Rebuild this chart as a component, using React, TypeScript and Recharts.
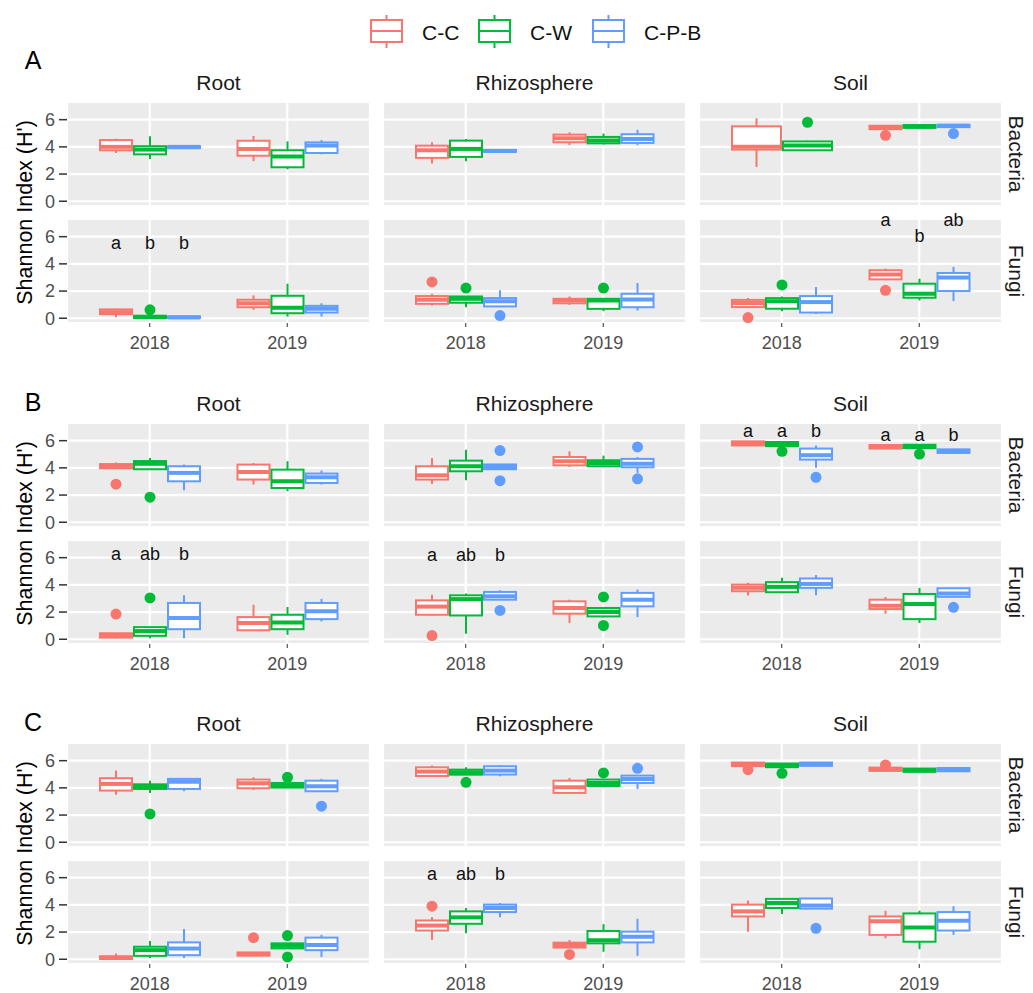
import React from 'react'
import { ComposedChart, Bar, XAxis, YAxis, CartesianGrid } from 'recharts'

const treatments = ['C-C', 'C-W', 'C-P-B']
const colors = ['#F8766D', '#00BA38', '#619CFF']
const years = ['2018', '2019']
const compartments = ['Root', 'Rhizosphere', 'Soil']
const kingdoms = ['Bacteria', 'Fungi']
const sectionLabels = ['A', 'B', 'C']
const majorTicks = [0, 2, 4, 6]
const minorTicks = [1, 3, 5, 7]

// one box = [min, q1, median, q3, max, ...outliers]
// order: 2018 C-C, C-W, C-P-B, then 2019 C-C, C-W, C-P-B
const A_root_bact = [
  [3.55, 3.75, 4.0, 4.5, 4.6],
  [3.1, 3.45, 3.8, 4.05, 4.78],
  [3.88, 3.9, 4.0, 4.05, 4.08],
  [2.95, 3.35, 3.85, 4.45, 4.8],
  [2.35, 2.5, 3.3, 3.75, 4.4],
  [3.45, 3.55, 4.1, 4.33, 4.5],
]
const A_root_fungi = [
  [0.08, 0.3, 0.45, 0.65, 0.7],
  [0, 0.02, 0.1, 0.18, 0.22, 0.62],
  [0, 0.02, 0.06, 0.14, 0.18],
  [0.62, 0.81, 1.1, 1.36, 1.68],
  [0.12, 0.37, 0.77, 1.65, 2.54],
  [0.12, 0.42, 0.69, 0.91, 1.1],
]
const A_rhizo_bact = [
  [2.77, 3.19, 3.75, 4.09, 4.34],
  [2.94, 3.26, 3.85, 4.46, 4.58],
  [3.6, 3.63, 3.7, 3.77, 3.8],
  [4.14, 4.34, 4.63, 4.9, 5.07],
  [4.17, 4.26, 4.46, 4.73, 4.98],
  [4.12, 4.29, 4.58, 4.93, 5.25],
]
const A_rhizo_fungi = [
  [0.94, 1.06, 1.36, 1.63, 1.8, 2.67],
  [0.81, 1.14, 1.43, 1.6, 1.62, 2.22],
  [0.86, 0.87, 1.25, 1.48, 2.05, 0.2],
  [0.99, 1.1, 1.3, 1.43, 1.6],
  [0.52, 0.69, 1.3, 1.43, 1.45, 2.22],
  [0.57, 0.81, 1.38, 1.8, 2.59],
]
const A_soil_bact = [
  [2.52, 3.8, 4.0, 5.51, 6.1],
  [3.72, 3.75, 4.1, 4.4, 4.45, 5.81],
  null,
  [5.25, 5.3, 5.45, 5.55, 5.6, 4.85],
  [5.35, 5.4, 5.5, 5.6, 5.65],
  [5.4, 5.45, 5.55, 5.62, 5.68, 4.98],
]
const A_soil_fungi = [
  [0.8, 0.82, 1.12, 1.35, 1.48, 0.05],
  [0.52, 0.7, 1.25, 1.48, 1.6, 2.45],
  [0.32, 0.42, 1.19, 1.63, 2.3],
  [2.8, 2.86, 3.21, 3.53, 3.65, 2.05],
  [1.31, 1.51, 1.8, 2.54, 2.91],
  [1.26, 2.0, 3.0, 3.33, 3.78],
]
const B_root_bact = [
  [3.95, 3.97, 4.12, 4.28, 4.4, 2.8],
  [3.87, 3.9, 4.3, 4.5, 4.73, 1.84],
  [2.35, 3.01, 3.63, 4.12, 4.24],
  [2.77, 3.14, 3.7, 4.24, 4.36],
  [2.28, 2.52, 3.01, 3.87, 4.49],
  [2.77, 2.89, 3.31, 3.58, 3.8],
]
const B_root_fungi = [
  [0.07, 0.12, 0.27, 0.44, 0.45, 1.85],
  [0.07, 0.25, 0.6, 0.89, 0.9, 3.04],
  [0.07, 0.74, 1.56, 2.67, 3.23],
  [0.64, 0.66, 1.19, 1.63, 2.54],
  [0.32, 0.74, 1.23, 1.8, 2.37],
  [1.31, 1.48, 2.05, 2.67, 2.96],
]
const B_rhizo_bact = [
  [2.82, 3.14, 3.45, 4.12, 4.73],
  [3.09, 3.75, 4.12, 4.53, 5.34],
  [3.87, 3.9, 4.07, 4.25, 4.29, 5.27, 3.06],
  [4.07, 4.19, 4.49, 4.8, 5.22],
  [4.07, 4.12, 4.36, 4.56, 4.9],
  [3.63, 4.04, 4.31, 4.66, 4.8, 5.54, 3.19],
]
const B_rhizo_fungi = [
  [1.73, 1.8, 2.4, 2.86, 3.28, 0.27],
  [0.4, 1.75, 2.95, 3.23, 3.36],
  [2.9, 2.91, 3.16, 3.48, 3.6, 2.12],
  [1.19, 1.88, 2.3, 2.79, 2.91],
  [1.6, 1.68, 2.0, 2.3, 2.37, 3.11, 1.01],
  [1.63, 2.42, 2.91, 3.41, 3.65],
]
const B_soil_bact = [
  [5.6, 5.65, 5.81, 5.95, 5.98],
  [5.58, 5.6, 5.78, 5.9, 5.92, 5.22],
  [4.0, 4.61, 4.93, 5.42, 5.64, 3.31],
  [5.39, 5.42, 5.54, 5.68, 5.7],
  [5.44, 5.46, 5.59, 5.7, 5.72, 5.02],
  [5.05, 5.1, 5.22, 5.36, 5.4],
]
const B_soil_fungi = [
  [3.21, 3.53, 3.78, 4.02, 4.15],
  [3.4, 3.46, 3.85, 4.2, 4.52],
  [3.23, 3.78, 4.07, 4.47, 4.72],
  [1.88, 2.22, 2.47, 2.91, 3.11],
  [1.19, 1.48, 2.59, 3.33, 3.78],
  [3.11, 3.12, 3.36, 3.75, 3.78, 2.35],
]
const C_root_bact = [
  [3.5, 3.8, 4.29, 4.71, 5.27],
  [3.63, 3.92, 4.12, 4.26, 4.53, 2.08],
  [3.75, 3.92, 4.45, 4.66, 4.7],
  [3.85, 3.97, 4.34, 4.61, 4.78],
  [4.0, 4.02, 4.17, 4.36, 4.4, 4.78],
  [3.73, 3.75, 4.12, 4.53, 4.66, 2.65],
]
const C_root_fungi = [
  [0, 0.02, 0.1, 0.22, 0.42],
  [0.1, 0.25, 0.67, 0.92, 1.34],
  [0.1, 0.3, 0.79, 1.24, 2.23],
  [0.25, 0.27, 0.37, 0.5, 0.52, 1.59],
  [0.79, 0.8, 0.99, 1.17, 1.18, 1.74, 0.17],
  [0.17, 0.67, 1.04, 1.59, 1.79],
]
const C_rhizo_bact = [
  [4.85, 4.87, 5.2, 5.51, 5.64],
  [4.95, 4.97, 5.15, 5.34, 5.51, 4.41],
  [4.85, 4.98, 5.27, 5.59, 5.69],
  [3.55, 3.63, 4.04, 4.53, 4.73],
  [4.12, 4.14, 4.36, 4.61, 4.65, 5.1],
  [3.92, 4.36, 4.66, 4.9, 4.92, 5.44],
]
const C_rhizo_fungi = [
  [1.41, 2.11, 2.48, 2.85, 3.08, 3.9],
  [1.91, 2.61, 3.08, 3.52, 3.77],
  [3.08, 3.47, 3.77, 4.02, 4.14],
  [0.84, 0.86, 1.04, 1.22, 1.41, 0.35],
  [0.55, 1.17, 1.4, 2.08, 2.58],
  [0.25, 1.24, 1.66, 2.03, 2.98],
]
const C_soil_bact = [
  [5.59, 5.6, 5.74, 5.86, 5.88, 5.34],
  [5.49, 5.52, 5.66, 5.79, 5.81, 5.07],
  [5.59, 5.62, 5.74, 5.86, 5.88],
  [5.22, 5.25, 5.37, 5.49, 5.51, 5.69],
  [5.15, 5.18, 5.3, 5.42, 5.44],
  [5.2, 5.22, 5.34, 5.46, 5.49],
]
const C_soil_fungi = [
  [2.03, 3.15, 3.52, 4.02, 4.32],
  [3.32, 3.77, 4.14, 4.44, 4.5],
  [3.7, 3.72, 3.95, 4.47, 4.52, 2.28],
  [1.54, 1.79, 2.8, 3.15, 3.57],
  [0.74, 1.29, 2.33, 3.37, 3.57],
  [1.79, 2.11, 2.83, 3.47, 3.9],
]

// significance letters [letter, y], same order as the boxes
const A_root_fungi_sig = [['a', 5.5], ['b', 5.5], ['b', 5.5], null, null, null]
const A_soil_fungi_sig = [null, null, null, ['a', 7.2], ['b', 6.05], ['ab', 7.2]]
const B_root_fungi_sig = [['a', 6.3], ['ab', 6.3], ['b', 6.3], null, null, null]
const B_rhizo_fungi_sig = [['a', 6.2], ['ab', 6.2], ['b', 6.2], null, null, null]
const B_soil_bact_sig = [['a', 6.7], ['a', 6.7], ['b', 6.7], ['a', 6.45], ['a', 6.45], ['b', 6.45]]
const C_rhizo_fungi_sig = [['a', 6.25], ['ab', 6.25], ['b', 6.25], null, null, null]

const grid = [
  [[A_root_bact, A_rhizo_bact, A_soil_bact], [A_root_fungi, A_rhizo_fungi, A_soil_fungi]],
  [[B_root_bact, B_rhizo_bact, B_soil_bact], [B_root_fungi, B_rhizo_fungi, B_soil_fungi]],
  [[C_root_bact, C_rhizo_bact, C_soil_bact], [C_root_fungi, C_rhizo_fungi, C_soil_fungi]],
]
const sigGrid: any = {
  '0-1-0': A_root_fungi_sig,
  '0-1-2': A_soil_fungi_sig,
  '1-1-0': B_root_fungi_sig,
  '1-1-1': B_rhizo_fungi_sig,
  '1-0-2': B_soil_bact_sig,
  '2-1-1': C_rhizo_fungi_sig,
}

const FONT = '"Liberation Sans", Arial, sans-serif'
const PANEL_W = 303
const PANEL_H = 104
const AXIS_W = 40
const XAXIS_H = 36
const X_PAD = 14
const BOX_W = Math.round(((PANEL_W - 2 * X_PAD) / 2) * 0.25)
const colLeft = [67, 383, 699]
const sectionTop = [102, 423, 743]
const FUNGI_OFFSET = 117
const Y_DOMAIN = [-0.35, 7.3]

function BoxShape(props: any) {
  const { x, y, width, height, payload, ti } = props
  const b = payload['b' + ti]
  if (!b || !isFinite(height) || height <= 0) return <g />
  const [mn, q1, md, q3, mx, ...outs] = b
  const [lo, hi] = payload['r' + ti]
  const py = (v: number) => y + (height * (hi - v)) / (hi - lo)
  // dodge among the groups that are present in this year
  const present: number[] = payload.present
  const k = present.length
  const j = present.indexOf(ti)
  const groupLeft = x - ti * width
  const w = (3 * width) / k
  const left = groupLeft + j * w
  const cx = left + w / 2
  const color = colors[ti]
  const sig = payload['s' + ti]
  return (
    <g>
      <line x1={cx} x2={cx} y1={py(q3)} y2={py(mx)} stroke={color} strokeWidth={2} />
      <line x1={cx} x2={cx} y1={py(q1)} y2={py(mn)} stroke={color} strokeWidth={2} />
      <rect x={left + 1} y={py(q3)} width={w - 2} height={py(q1) - py(q3)} fill="#FFFFFF" stroke={color} strokeWidth={2} />
      <line x1={left + 1} x2={left + w - 1} y1={py(md)} y2={py(md)} stroke={color} strokeWidth={4} />
      {outs.map((o: number, i: number) => (
        <circle key={i} cx={cx} cy={py(o)} r={5.5} fill={color} />
      ))}
      {sig && (
        <text x={cx} y={py(sig[1])} textAnchor="middle" dominantBaseline="central" fontSize={18} fill="#111111" fontFamily={FONT}>
          {sig[0]}
        </text>
      )}
    </g>
  )
}

function Panel({ boxes, sig, showY, showX }: any) {
  const rows = years.map((year, yi) => {
    const row: any = { year, present: [] }
    treatments.forEach((_, ti) => {
      const b = boxes[yi * 3 + ti]
      row['b' + ti] = b
      row['r' + ti] = b ? [Math.min(...b), Math.max(...b)] : null
      row['s' + ti] = sig ? sig[yi * 3 + ti] : null
      if (b) row.present.push(ti)
    })
    return row
  })
  const width = PANEL_W + (showY ? AXIS_W : 0)
  const height = PANEL_H + (showX ? XAXIS_H : 0)
  return (
    <ComposedChart width={width} height={height} data={rows} margin={{ top: 0, right: 0, bottom: 0, left: 0 }} barGap={0}>
      <CartesianGrid yAxisId="minor" fill="#EBEBEB" stroke="#FFFFFF" strokeWidth={1.2} vertical={false} />
      <CartesianGrid yAxisId="major" stroke="#FFFFFF" strokeWidth={2.2} />
      <XAxis
        dataKey="year"
        hide={!showX}
        padding={{ left: X_PAD, right: X_PAD }}
        height={XAXIS_H}
        axisLine={false}
        tickSize={4}
        tickMargin={9}
        tickLine={{ stroke: '#333333' }}
        tick={{ fill: '#4D4D4D', fontSize: 18, fontFamily: FONT }}
        interval={0}
      />
      <YAxis
        yAxisId="major"
        type="number"
        domain={Y_DOMAIN}
        ticks={majorTicks}
        interval={0}
        hide={!showY}
        width={AXIS_W}
        axisLine={false}
        tickSize={8}
        tickMargin={4}
        tickLine={{ stroke: '#333333', strokeWidth: 1.5 }}
        tick={{ fill: '#4D4D4D', fontSize: 18, fontFamily: FONT }}
      />
      <YAxis yAxisId="minor" type="number" domain={Y_DOMAIN} ticks={minorTicks} interval={0} hide />
      {treatments.map((t, ti) => (
        <Bar
          key={t}
          name={t}
          yAxisId="major"
          dataKey={'r' + ti}
          barSize={BOX_W}
          isAnimationActive={false}
          shape={(p: any) => <BoxShape {...p} ti={ti} />}
        />
      ))}
    </ComposedChart>
  )
}

const legendX = [370, 478, 592]

export default function App() {
  return (
    <div style={{ position: 'absolute', left: 0, top: 0, width: 1033, height: 993, background: '#FFFFFF', fontFamily: FONT }}>
      <style>{'.recharts-surface{overflow:visible}'}</style>
      <svg width={1033} height={993} style={{ position: 'absolute', left: 0, top: 0 }}>
        {treatments.map((t, i) => (
          <g key={t}>
            <line x1={legendX[i] + 16.5} x2={legendX[i] + 16.5} y1={15} y2={48} stroke={colors[i]} strokeWidth={2} />
            <rect x={legendX[i] + 1} y={20} width={31} height={22} fill="#FFFFFF" stroke={colors[i]} strokeWidth={2} />
            <line x1={legendX[i] + 1} x2={legendX[i] + 32} y1={31} y2={31} stroke={colors[i]} strokeWidth={2} />
            <text x={legendX[i] + 52} y={32} fontSize={21} dominantBaseline="central" fill="#111111">
              {t}
            </text>
          </g>
        ))}
        {sectionLabels.map((s, si) => {
          const T = sectionTop[si]
          return (
            <g key={s}>
              <text x={33} y={si === 0 ? 60 : T - 21} fontSize={25} textAnchor="middle" dominantBaseline="central" fill="#000000">
                {s}
              </text>
              {compartments.map((c, ci) => (
                <text key={c} x={colLeft[ci] + PANEL_W / 2} y={T - 19.5} fontSize={21} textAnchor="middle" dominantBaseline="central" fill="#1A1A1A">
                  {c}
                </text>
              ))}
              {kingdoms.map((k, ki) => (
                <text
                  key={k}
                  transform={`translate(1016, ${T + ki * FUNGI_OFFSET + PANEL_H / 2}) rotate(90)`}
                  fontSize={21}
                  textAnchor="middle"
                  dominantBaseline="central"
                  fill="#1A1A1A"
                >
                  {k}
                </text>
              ))}
              <text transform={`translate(25, ${T + (FUNGI_OFFSET + PANEL_H) / 2}) rotate(-90)`} fontSize={21.5} textAnchor="middle" dominantBaseline="central" fill="#000000">
                Shannon Index (H')
              </text>
            </g>
          )
        })}
      </svg>
      {grid.map((sec, si) =>
        sec.map((row, ki) =>
          row.map((boxes, ci) => (
            <div
              key={`${si}-${ki}-${ci}`}
              style={{
                position: 'absolute',
                left: colLeft[ci] - (ci === 0 ? AXIS_W : 0),
                top: sectionTop[si] + ki * FUNGI_OFFSET,
              }}
            >
              <Panel boxes={boxes} sig={sigGrid[`${si}-${ki}-${ci}`]} showY={ci === 0} showX={ki === 1} />
            </div>
          ))
        )
      )}
    </div>
  )
}
